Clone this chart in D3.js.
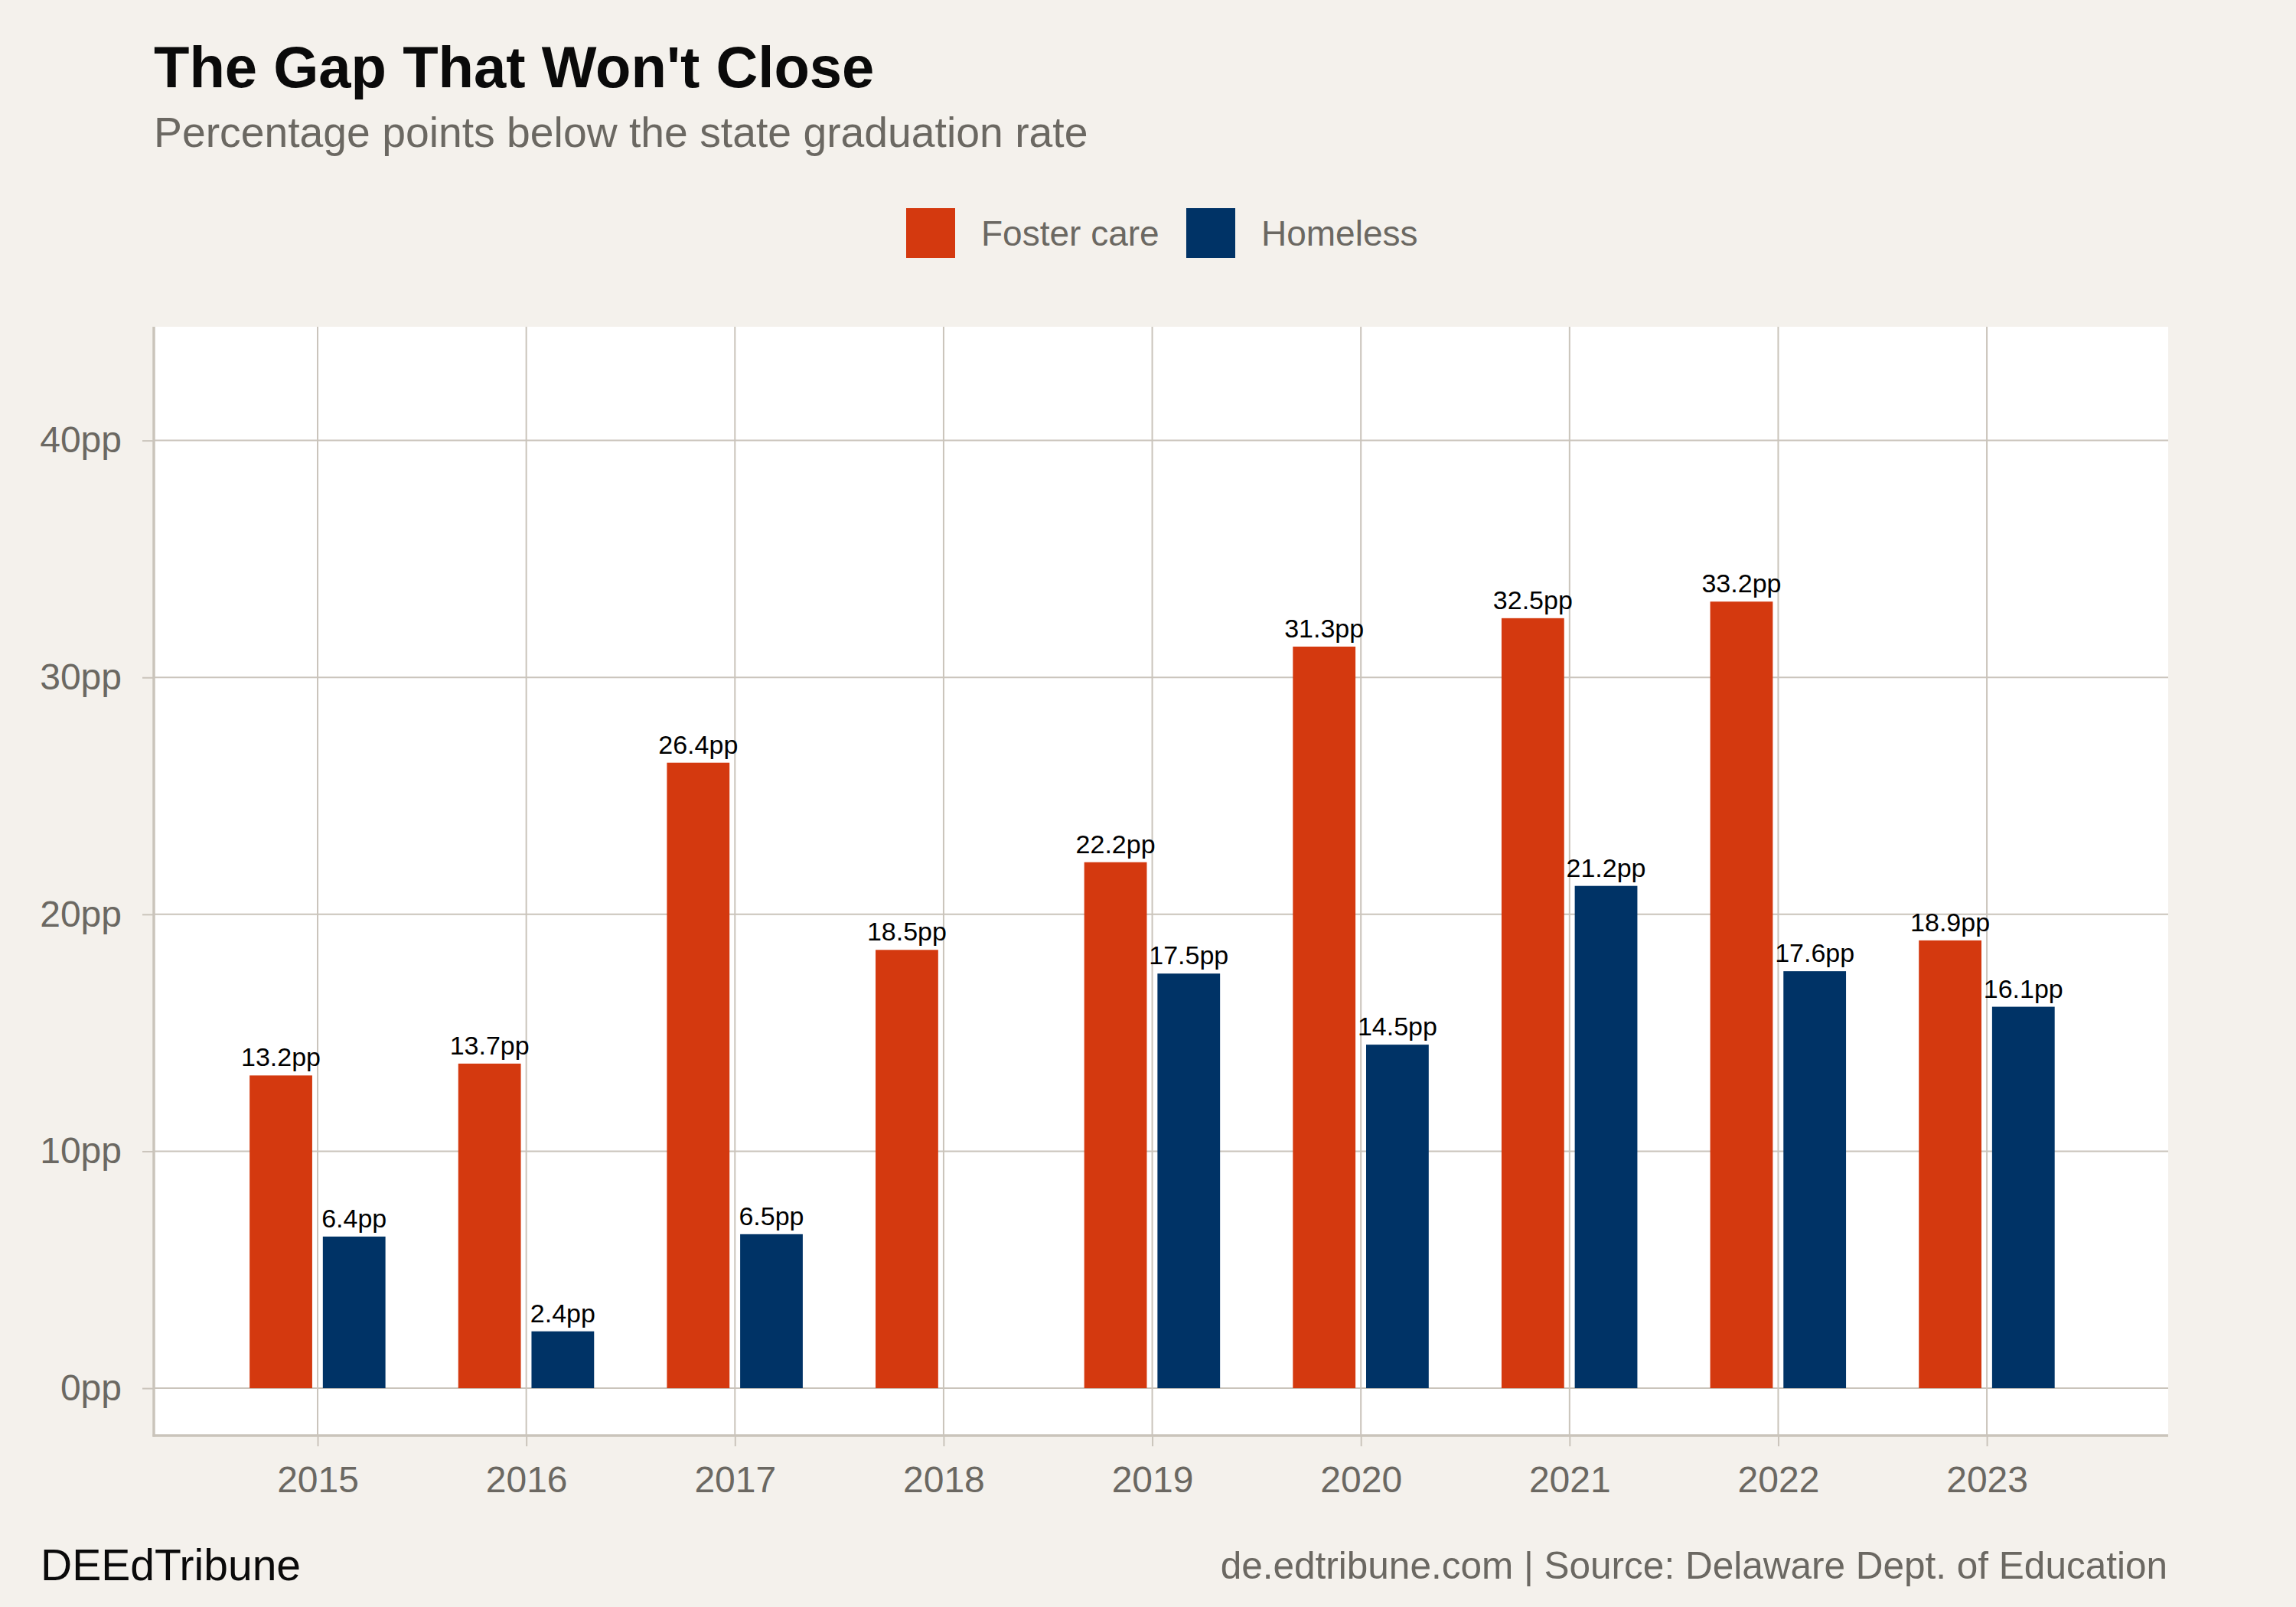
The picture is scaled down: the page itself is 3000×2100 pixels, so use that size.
<!DOCTYPE html>
<html>
<head>
<meta charset="utf-8">
<script src="https://cdn.jsdelivr.net/npm/d3@7"></script>
<style>
  html, body { margin: 0; padding: 0; background: #f4f1ec; }
  svg { display: block; font-family: "Liberation Sans", Arial, Helvetica, sans-serif; }
</style>
</head>
<body>
<svg id="chart" width="3000" height="2100"></svg>
<script>
const years = [2015, 2016, 2017, 2018, 2019, 2020, 2021, 2022, 2023];
const fosterCare = [13.2, 13.7, 26.4, 18.5, 22.2, 31.3, 32.5, 33.2, 18.9];
const homeless = [6.4, 2.4, 6.5, null, 17.5, 14.5, 21.2, 17.6, 16.1];
const seriesNames = ["Foster care", "Homeless"];
const seriesColors = ["#d4390f", "#003366"];
const yTicks = [0, 10, 20, 30, 40];

const svg = d3.select("#chart");
const W = 3000, H = 2100;
const panel = { left: 201, right: 2833, top: 427, bottom: 1876 };
const gridColor = "#cac4bb";
const textGray = "#6b6862";

svg.append("rect").attr("width", W).attr("height", H).attr("fill", "#f4f1ec");

const x = d3.scaleLinear().domain([2014.215, 2023.869]).range([panel.left, panel.right]);
const y = d3.scaleLinear().domain([-2.0, 44.8]).range([panel.bottom, panel.top]);

// panel
svg.append("rect")
  .attr("x", panel.left).attr("y", panel.top)
  .attr("width", panel.right - panel.left).attr("height", panel.bottom - panel.top)
  .attr("fill", "#ffffff");

// gridlines
const g = svg.append("g");
g.selectAll("line.hg").data(yTicks).join("line")
  .attr("x1", panel.left).attr("x2", panel.right)
  .attr("y1", d => y(d)).attr("y2", d => y(d))
  .attr("stroke", gridColor).attr("stroke-width", 2);
g.selectAll("line.vg").data(years).join("line")
  .attr("y1", panel.top).attr("y2", panel.bottom)
  .attr("x1", d => x(d)).attr("x2", d => x(d))
  .attr("stroke", gridColor).attr("stroke-width", 2);

// axes
const yAxis = d3.axisLeft(y).tickValues(yTicks).tickFormat(d => d + "pp").tickSize(15).tickPadding(27);
const yG = svg.append("g").attr("transform", `translate(${panel.left},0)`).call(yAxis);
yG.select(".domain").remove();
yG.selectAll(".tick line").attr("stroke", gridColor).attr("stroke-width", 2);
yG.selectAll(".tick text").attr("fill", textGray).attr("font-size", 48)
  .attr("font-family", "Liberation Sans, Arial, sans-serif");

const xAxis = d3.axisBottom(x).tickValues(years).tickFormat(d3.format("d")).tickSize(14).tickPadding(26);
const xG = svg.append("g").attr("transform", `translate(0,${panel.bottom})`).call(xAxis);
xG.select(".domain").remove();
xG.selectAll(".tick line").attr("stroke", gridColor).attr("stroke-width", 2);
xG.selectAll(".tick text").attr("fill", textGray).attr("font-size", 48)
  .attr("font-family", "Liberation Sans, Arial, sans-serif");

// axis lines
svg.append("line").attr("x1", panel.left).attr("x2", panel.left)
  .attr("y1", panel.top).attr("y2", panel.bottom + 1.5)
  .attr("stroke", gridColor).attr("stroke-width", 3.5);
svg.append("line").attr("x1", panel.left - 1.5).attr("x2", panel.right)
  .attr("y1", panel.bottom).attr("y2", panel.bottom)
  .attr("stroke", gridColor).attr("stroke-width", 3.5);

// bars
const barW = 0.30;
const offsets = [-0.176, 0.175];
const data = [];
years.forEach((yr, i) => {
  [fosterCare[i], homeless[i]].forEach((v, s) => {
    if (v !== null) data.push({ year: yr, value: v, s });
  });
});
const bars = svg.append("g");
bars.selectAll("rect").data(data).join("rect")
  .attr("x", d => x(d.year + offsets[d.s] - barW / 2))
  .attr("width", d => x(d.year + offsets[d.s] + barW / 2) - x(d.year + offsets[d.s] - barW / 2))
  .attr("y", d => y(d.value))
  .attr("height", d => y(0) - y(d.value))
  .attr("fill", d => seriesColors[d.s]);

bars.selectAll("text").data(data).join("text")
  .attr("x", d => x(d.year + offsets[d.s]))
  .attr("y", d => y(d.value) - 12)
  .attr("text-anchor", "middle")
  .attr("font-size", 34)
  .attr("fill", "#000")
  .text(d => d.value.toFixed(1) + "pp");

// title
svg.append("text").attr("x", 201).attr("y", 114)
  .attr("font-size", 76).attr("font-weight", "bold").attr("fill", "#0a0a0a")
  .text("The Gap That Won't Close");
svg.append("text").attr("x", 201).attr("y", 192)
  .attr("font-size", 55.3).attr("fill", textGray)
  .text("Percentage points below the state graduation rate");

// legend
const legX = [1184, 1550];
const leg = svg.append("g");
seriesNames.forEach((name, i) => {
  leg.append("rect").attr("x", legX[i]).attr("y", 272).attr("width", 64).attr("height", 65)
    .attr("fill", seriesColors[i]);
  leg.append("text").attr("x", legX[i] + 98).attr("y", 321)
    .attr("font-size", 46).attr("fill", textGray).text(name);
});

// footer
svg.append("text").attr("x", 53).attr("y", 2065)
  .attr("font-size", 57).attr("fill", "#0a0a0a").text("DEEdTribune");
svg.append("text").attr("x", 2832).attr("y", 2063).attr("text-anchor", "end")
  .attr("font-size", 49.5).attr("fill", textGray)
  .text("de.edtribune.com | Source: Delaware Dept. of Education");
</script>
</body>
</html>
